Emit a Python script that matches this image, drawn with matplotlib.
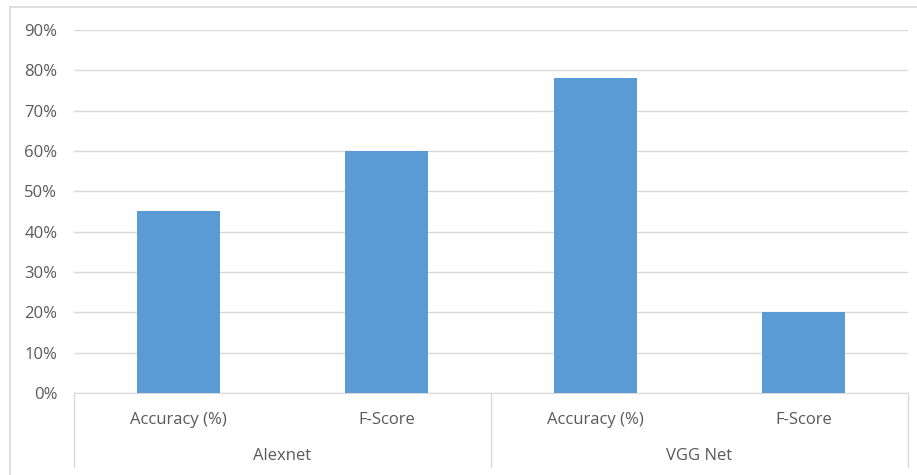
import matplotlib.pyplot as plt
from matplotlib.lines import Line2D
from matplotlib.ticker import PercentFormatter

groups = ['Alexnet', 'VGG Net']
metrics = ['Accuracy (%)', 'F-Score', 'Accuracy (%)', 'F-Score']
values = [0.45, 0.60, 0.78, 0.20]
yticks = [0, 0.1, 0.2, 0.3, 0.4, 0.5, 0.6, 0.7, 0.8, 0.9]

plt.rcParams['font.family'] = ['Open Sans', 'DejaVu Sans']
txt = '#595959'
grid = '#D9D9D9'
fs = 12

W, H = 917, 475
fig = plt.figure(figsize=(W / 100, H / 100), dpi=100)

# plot area in pixels: left 74, right 908, 0% at y=393, 90% at y=30
ax = fig.add_axes([74 / W, (H - 393) / H, 834 / W, 363 / H])

x = list(range(len(values)))
ax.bar(x, values, width=0.4, color='#5B9BD5', zorder=3)
ax.set_xlim(-0.5, len(values) - 0.5)
ax.set_ylim(0, 0.9)
ax.set_yticks(yticks)
ax.yaxis.set_major_formatter(PercentFormatter(1.0, decimals=0))
ax.tick_params(axis='y', length=0, pad=12, labelsize=fs, labelcolor=txt)
ax.set_xticks([])
ax.grid(axis='y', color=grid, linewidth=1, zorder=0)
for s in ['top', 'right', 'left']:
    ax.spines[s].set_visible(False)
ax.spines['bottom'].set_color(grid)

# grouped category axis
tr = ax.get_xaxis_transform()
low = -74 / 363
for xv in [-0.5, 1.5, 3.5]:
    ax.plot([xv, xv], [0, low], transform=tr, color=grid, lw=1, clip_on=False)
for i, m in enumerate(metrics):
    ax.text(i, -27 / 363, m, transform=tr, ha='center', va='center',
            fontsize=fs, color=txt)
for g, name in enumerate(groups):
    ax.text(2 * g + 0.5, -63 / 363, name, transform=tr, ha='center',
            va='center', fontsize=fs, color=txt)

# chart border (partly cropped)
fig.add_artist(Line2D([9.5 / W, 9.5 / W], [0, (H - 6.5) / H], color=grid, lw=1.2))
fig.add_artist(Line2D([9.5 / W, 1], [(H - 6.5) / H, (H - 6.5) / H], color=grid, lw=1.2))

fig.savefig('out.png', dpi=100)
